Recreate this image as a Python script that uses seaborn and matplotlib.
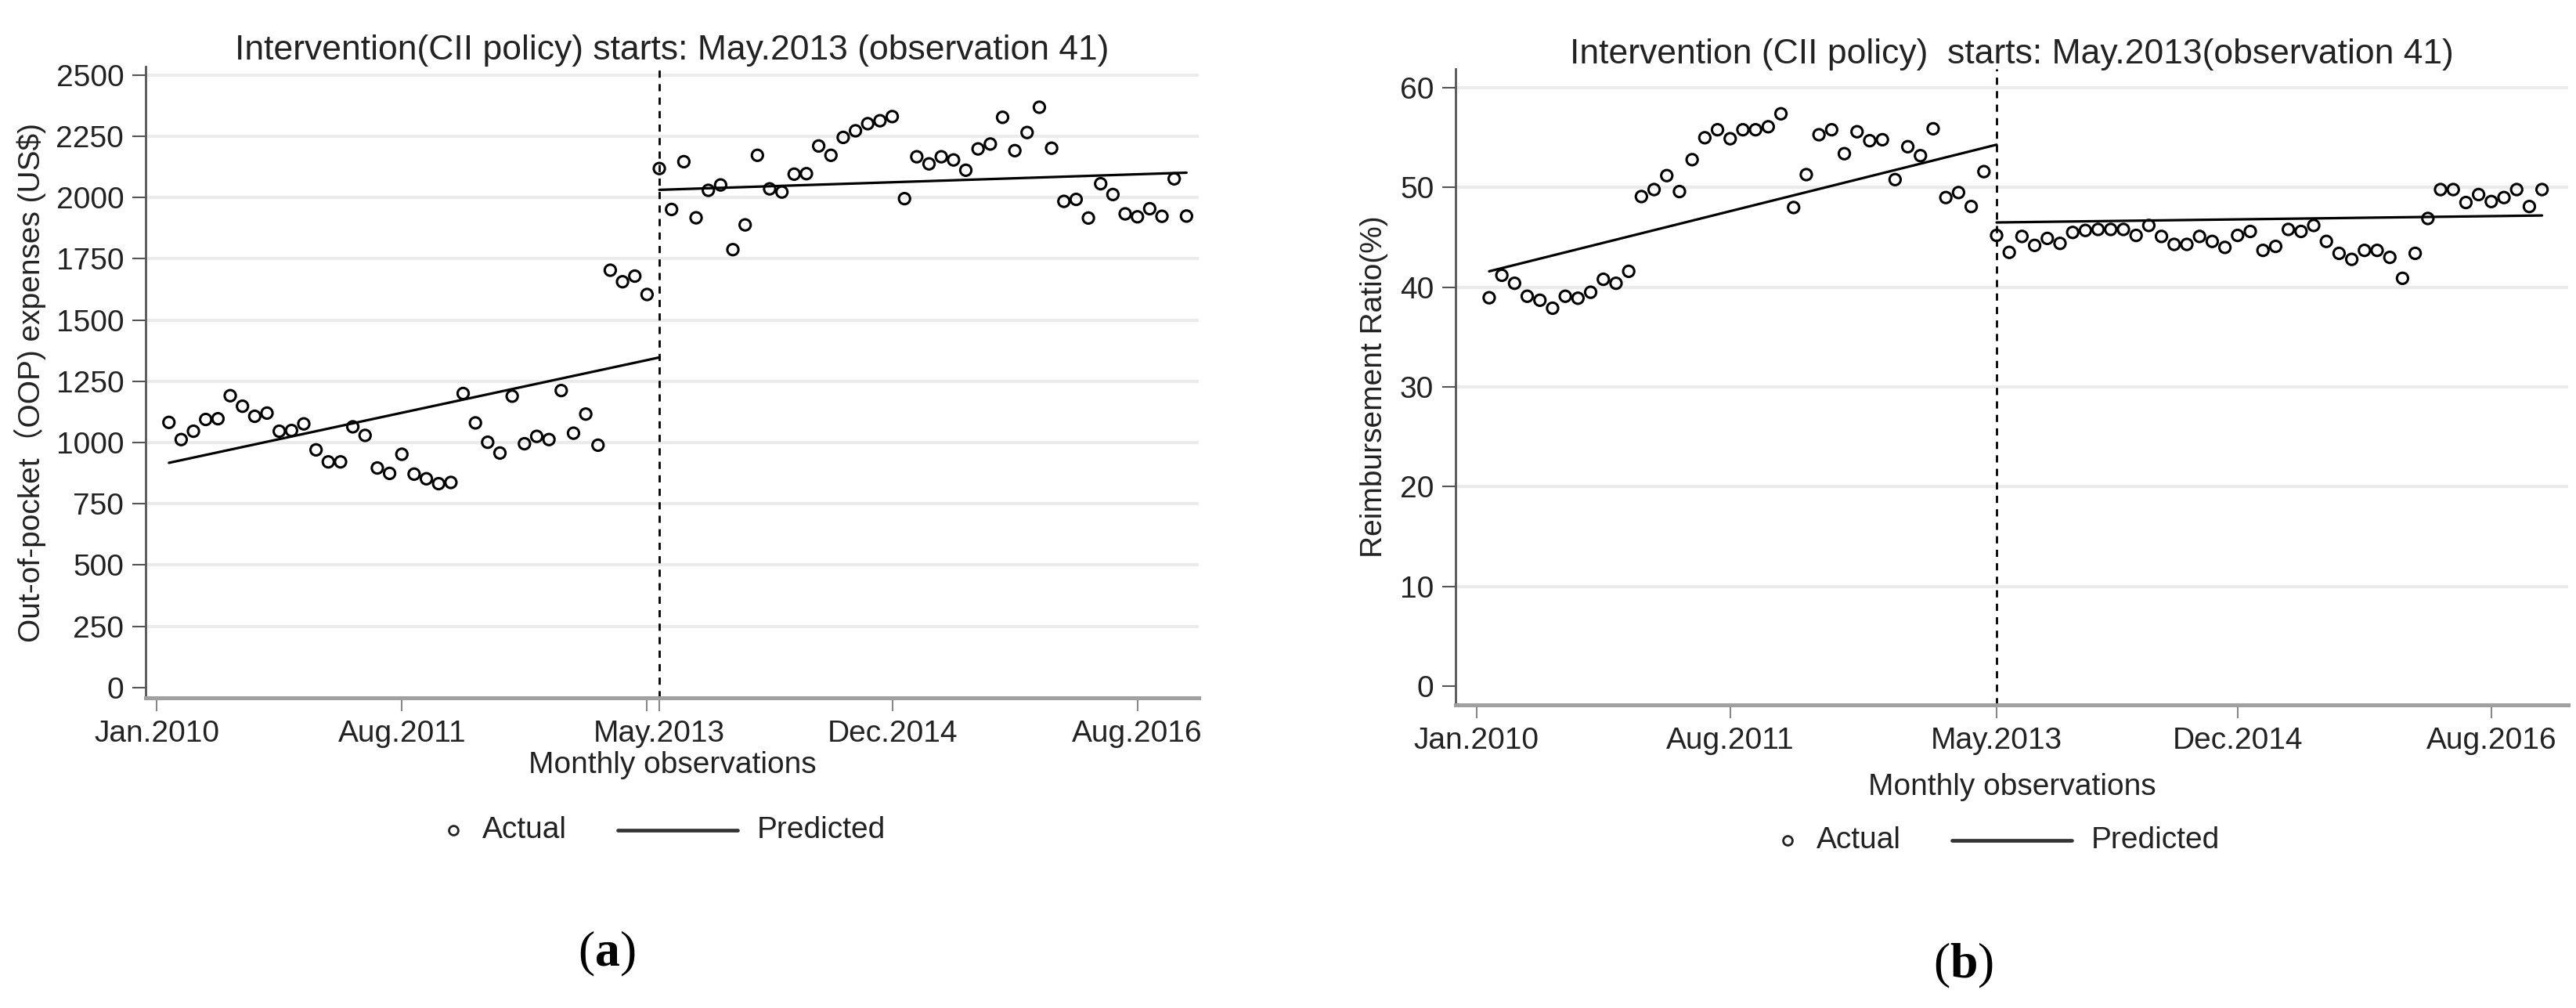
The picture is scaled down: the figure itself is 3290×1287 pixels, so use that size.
import matplotlib
matplotlib.use("Agg")
import numpy as np
import pandas as pd
import matplotlib.pyplot as plt
from matplotlib.lines import Line2D
import seaborn as sns


## DATA, observation index 1..84, intervention at 41
obs_pre = list(range(1, 41))
obs_post = list(range(41, 85))

oop_pre = [1082, 1012, 1046, 1094, 1097, 1191, 1148, 1107, 1120, 1046,
           1049, 1076, 970, 921, 921, 1064, 1029, 896, 874, 952,
           871, 852, 832, 837, 1200, 1080, 1001, 957, 1189, 995,
           1025, 1012, 1212, 1038, 1116, 989, 1703, 1656, 1679, 1604]
oop_post = [2118, 1951, 2146, 1917, 2029, 2051, 1787, 1888, 2172, 2035,
            2022, 2095, 2097, 2210, 2172, 2245, 2272, 2301, 2313, 2330,
            1995, 2166, 2137, 2166, 2153, 2111, 2198, 2218, 2327, 2191,
            2265, 2368, 2201, 1984, 1992, 1916, 2056, 2012, 1933, 1921,
            1954, 1923, 2076, 1924]

rr_pre = [38.95, 41.2, 40.4, 39.1, 38.7, 37.9, 39.1, 38.9, 39.5, 40.8,
          40.4, 41.6, 49.1, 49.8, 51.2, 49.6, 52.8, 55.0, 55.8, 54.9,
          55.8, 55.8, 56.1, 57.4, 48.0, 51.3, 55.3, 55.8, 53.4, 55.6,
          54.7, 54.8, 50.8, 54.1, 53.2, 55.9, 49.0, 49.5, 48.1, 51.6]
rr_post = [45.2, 43.5, 45.1, 44.2, 44.9, 44.4, 45.5, 45.7, 45.8, 45.8,
           45.8, 45.2, 46.2, 45.1, 44.3, 44.3, 45.1, 44.6, 44.0, 45.2,
           45.6, 43.7, 44.1, 45.8, 45.6, 46.2, 44.6, 43.4, 42.8, 43.7,
           43.7, 43.0, 40.9, 43.4, 46.9, 49.8, 49.8, 48.5, 49.3, 48.6,
           49.0, 49.8, 48.1, 49.8]

# predicted segments (end points of the fitted lines)
pred_x = [1, 41, 41, 84]
pred_seg = ["pre", "pre", "post", "post"]
oop_pred = [917, 1347, 2031, 2101]
rr_pred = [41.6, 54.3, 46.5, 47.2]

xtick_pos = [0, 20, 41, 60, 80]
xtick_lab = ["Jan.2010", "Aug.2011", "May.2013", "Dec.2014", "Aug.2016"]
oop_ticks = [0, 250, 500, 750, 1000, 1250, 1500, 1750, 2000, 2250, 2500]
rr_ticks = [0, 10, 20, 30, 40, 50, 60]

W, H = 3290, 1287
TXT = "#222222"

sns.set_theme(style="white")
plt.rcParams["font.family"] = ["Liberation Sans", "Noto Sans CJK SC", "DejaVu Sans"]
plt.rcParams["mathtext.fontset"] = "custom"
plt.rcParams["mathtext.bf"] = "Liberation Serif:bold"
plt.rcParams["mathtext.rm"] = "Liberation Serif"


def panel(ax, actual, pred, yticks, ylim, xlim, title, ylabel, xlabpad, ylabpad):
    df = pd.DataFrame({"obs": obs_pre + obs_post, "value": actual})
    dp = pd.DataFrame({"obs": pred_x, "value": pred, "seg": pred_seg})

    for t in yticks[1:]:
        ax.axhline(t, color="#ebebeb", lw=3, zorder=0)
    ax.axvline(41, color="black", lw=2, ls=(0, (3.3, 2.9)), zorder=1)

    sns.lineplot(data=dp, x="obs", y="value", units="seg", estimator=None,
                 color="black", lw=2.3, ax=ax, zorder=3)
    sns.scatterplot(data=df, x="obs", y="value", ax=ax, s=105,
                    facecolor="none", edgecolor="black", linewidth=2.2, zorder=4)

    ax.set_xlim(xlim)
    ax.set_ylim(ylim)
    ax.set_yticks(yticks)
    ax.set_xticks(xtick_pos)
    ax.set_xticklabels(xtick_lab)
    ax.set_xlabel("Monthly observations", fontsize=28, color=TXT, labelpad=xlabpad)
    ax.set_ylabel(ylabel, fontsize=28, color=TXT, labelpad=ylabpad)
    ax.set_title(title, fontsize=32, color=TXT, pad=5)

    sns.despine(ax=ax)
    ax.spines["left"].set_color("#555555")
    ax.spines["left"].set_linewidth(2)
    ax.spines["bottom"].set_color("#a0a0a0")
    ax.spines["bottom"].set_linewidth(3.6)
    ax.tick_params(axis="y", length=12, width=1.5, color="#555555", pad=8,
                   labelsize=28, labelcolor=TXT, left=True)
    ax.tick_params(axis="x", length=12, width=1.5, color="#888888", pad=8,
                   labelsize=28, labelcolor=TXT, bottom=True)


def key(fig, xm, y):
    # manual Stata-like legend: o Actual  ---- Predicted
    yy = 1 - y / H
    fig.add_artist(Line2D([xm / W], [yy], marker="o", ms=8.5, mfc="none",
                          mec="#222222", mew=2, ls="none",
                          transform=fig.transFigure))
    fig.text((xm + 37) / W, yy, "Actual", fontsize=28, color=TXT,
             ha="left", va="center")
    fig.add_artist(Line2D([(xm + 210) / W, (xm + 363) / W], [yy, yy],
                          color="#333333", lw=3.4, transform=fig.transFigure))
    fig.text((xm + 388) / W, yy, "Predicted", fontsize=28, color=TXT,
             ha="left", va="center")


fig = plt.figure(figsize=(W / 100, H / 100), dpi=100)
ax1 = fig.add_axes([186 / W, 1 - 891 / H, (1531 - 186) / W, (891 - 85) / H])
ax2 = fig.add_axes([1859 / W, 1 - 900 / H, (3280 - 1859) / W, (900 - 88) / H])

panel(ax1, oop_pre + oop_post, oop_pred, oop_ticks, (-42, 2534), (-0.9, 85.0),
      "Intervention(CII policy) starts: May.2013 (observation 41)",
      "Out-of-pocket\uff08OOP) expenses (US$)", 3, 9)
ax1.set_xticks([40], minor=True)
ax1.tick_params(axis="x", which="minor", length=12, width=1.5, color="#888888", bottom=True)

panel(ax2, rr_pre + rr_post, rr_pred, rr_ticks, (-1.89, 61.9), (-1.65, 86.06),
      "Intervention (CII policy)  starts: May.2013(observation 41)",
      "Reimbursement Ratio(%)", 17, 11)

key(fig, 579, 1060)
key(fig, 2283, 1073)

fig.text(775 / W, 1 - 1218 / H, r"($\mathbf{a}$)", fontsize=46, color="black",
         family="Liberation Serif", ha="center", va="center")
fig.text(2508 / W, 1 - 1233 / H, r"($\mathbf{b}$)", fontsize=46, color="black",
         family="Liberation Serif", ha="center", va="center")

plt.savefig("out.png", dpi=100, facecolor="white")
plt.close()
